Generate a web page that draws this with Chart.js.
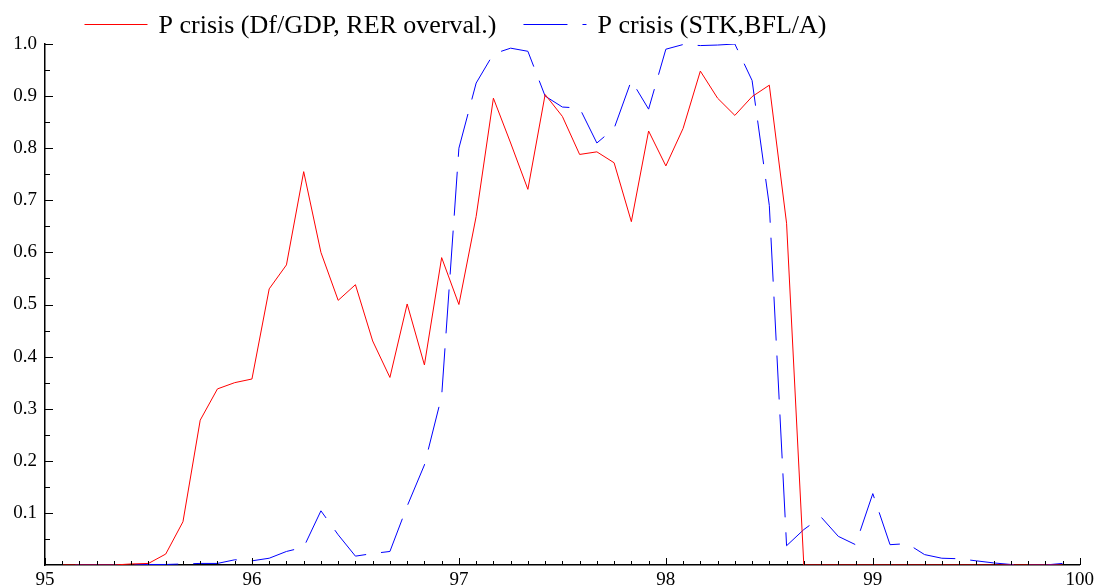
<!DOCTYPE html>
<html>
<head>
<meta charset="utf-8">
<script src="https://cdn.jsdelivr.net/npm/chart.js@4.4.1/dist/chart.umd.min.js"></script>
<style>
  html, body { margin: 0; padding: 0; background: #fff; }
  canvas { display: block; }
</style>
</head>
<body>
<canvas id="myChart" width="1098" height="587"></canvas>
<script>
// monthly points, Feb 95 .. Nov 99 (x axis is year + month/12)
const months = Array.from({ length: 59 }, (_, i) => 95 + (i + 1) / 12);

// P crisis (Df/GDP, RER overval.) -- red
const pDeficit = [
  0, 0, 0, 0, 0.002, 0.003, 0.021, 0.083, 0.278, 0.338, 0.35, 0.357,
  0.53, 0.576, 0.755, 0.6, 0.508, 0.538, 0.43, 0.36, 0.501, 0.384, 0.59, 0.5,
  0.669, 0.896, 0.81, 0.721, 0.903, 0.861, 0.788, 0.793, 0.772, 0.659, 0.833, 0.766,
  0.838, 0.948, 0.896, 0.863, 0.899, 0.921, 0.656, 0, 0, 0, 0, 0,
  0, 0, 0, 0, 0, 0, 0, 0, 0, 0, 0
];

// P crisis (STK,BFL/A) -- blue dashed
const pStock = [
  0, 0, 0, 0, 0, 0.001, 0.001, 0.002, 0.003, 0.003, 0.01, 0.008,
  0.013, 0.026, 0.034, 0.104, 0.058, 0.017, 0.022, 0.026, 0.113, 0.192, 0.324, 0.8,
  0.925, 0.981, 0.992, 0.986, 0.9, 0.879, 0.877, 0.81, 0.838, 0.93, 0.875, 0.99,
  0.999, 0.997, 0.998, 1.0, 0.93, 0.69, 0.037, 0.068, 0.092, 0.055, 0.039, 0.137,
  0.039, 0.041, 0.02, 0.013, 0.012, 0.008, 0.004, 0.001, 0, 0, 0.003
];

const xTickValues = [95, 96, 97, 98, 99, 100];
const yTickValues = [0.1, 0.2, 0.3, 0.4, 0.5, 0.6, 0.7, 0.8, 0.9, 1.0];

const serif = 'Liberation Serif';

// small inward tick marks: monthly on x, every 0.05 on y
const tickMarks = {
  id: 'tickMarks',
  afterDraw(chart) {
    const { ctx, scales: { x, y } } = chart;
    ctx.save();
    ctx.strokeStyle = '#000';
    ctx.lineWidth = 1;
    ctx.beginPath();
    for (let m = 0; m <= 60; m++) {
      const px = Math.round(x.getPixelForValue(95 + m / 12)) + 0.5;
      const len = m % 12 === 0 ? 7 : 4;
      ctx.moveTo(px, y.bottom);
      ctx.lineTo(px, y.bottom - len);
    }
    for (let k = 1; k <= 20; k++) {
      const py = Math.round(y.getPixelForValue(k * 0.05)) + 0.5;
      const len = k % 2 === 0 ? 8 : 5;
      ctx.moveTo(x.left, py);
      ctx.lineTo(x.left + len, py);
    }
    ctx.stroke();
    ctx.restore();
  }
};

// legend on top, drawn from the datasets
const topLegend = {
  id: 'topLegend',
  afterDraw(chart) {
    const ctx = chart.ctx;
    const ly = 24.5;
    let lx = 84.5;
    ctx.save();
    ctx.font = '26px "' + serif + '"';
    ctx.textBaseline = 'alphabetic';
    chart.data.datasets.forEach(ds => {
      ctx.strokeStyle = ds.borderColor;
      ctx.lineWidth = ds.borderWidth;
      ctx.setLineDash(ds.borderDash || []);
      ctx.beginPath();
      ctx.moveTo(lx, ly);
      ctx.lineTo(lx + 63, ly);
      ctx.stroke();
      ctx.setLineDash([]);
      ctx.fillStyle = '#000';
      ctx.fillText(ds.label, lx + 74, 33);
      lx += 74 + ctx.measureText(ds.label).width + 27;
    });
    ctx.restore();
  }
};

const ctx = document.getElementById('myChart').getContext('2d');
const myChart = new Chart(ctx, {
  type: 'line',
  data: {
    datasets: [
      {
        label: 'P crisis (Df/GDP, RER overval.)',
        data: months.map((m, i) => ({ x: m, y: pDeficit[i] })),
        borderColor: '#ff0000',
        borderWidth: 1,
        pointRadius: 0,
        tension: 0
      },
      {
        label: 'P crisis (STK,BFL/A)',
        data: months.map((m, i) => ({ x: m, y: pStock[i] })),
        borderColor: '#0000ff',
        borderWidth: 1,
        borderDash: [44, 15],
        borderDashOffset: 46,
        pointRadius: 0,
        tension: 0
      }
    ]
  },
  options: {
    responsive: false,
    animation: false,
    devicePixelRatio: 1,
    layout: { padding: { top: 44, right: 17, left: 0, bottom: 0 } },
    plugins: {
      legend: { display: false },
      tooltip: { enabled: false }
    },
    scales: {
      x: {
        type: 'linear',
        min: 95,
        max: 100,
        afterBuildTicks: s => { s.ticks = xTickValues.map(v => ({ value: v })); },
        afterFit: s => { s.height = 22; },
        grid: { display: false, drawTicks: false },
        border: { display: true, color: '#000', width: 1.5 },
        ticks: {
          autoSkip: false,
          maxRotation: 0,
          padding: 4,
          color: '#000',
          font: { family: serif, size: 19 },
          callback: v => String(v)
        }
      },
      y: {
        min: 0,
        max: 1,
        afterBuildTicks: s => { s.ticks = yTickValues.map(v => ({ value: v })); },
        afterFit: s => { s.width = 45; },
        grid: { display: false, drawTicks: false },
        border: { display: true, color: '#000', width: 1.5 },
        ticks: {
          autoSkip: false,
          padding: 8,
          color: '#000',
          font: { family: serif, size: 19 },
          callback: v => Number(v).toFixed(1)
        }
      }
    }
  },
  plugins: [tickMarks, topLegend]
});
</script>
</body>
</html>
